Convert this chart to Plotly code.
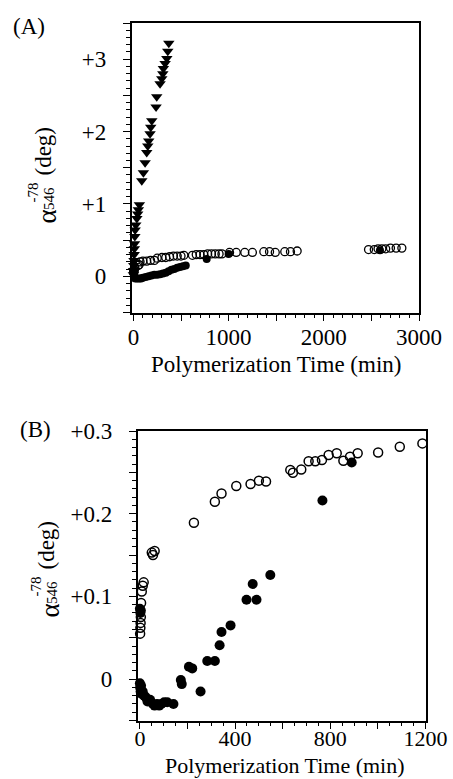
import plotly.graph_objects as go

W, H = 453, 779

# ---------------- Panel A data ----------------
a_tri_x = [0, 2, 4, 6, 8, 10, 12, 15, 18, 25, 36, 45, 52, 63, 88, 105, 123, 140, 151, 161,
           175, 182, 193, 238, 245, 280, 298, 309, 315, 333, 351, 361, 372]
a_tri_y = [0.02, 0.08, 0.15, 0.22, 0.30, 0.38, 0.45, 0.55, 0.64, 0.71, 0.80, 0.86, 0.92, 0.99,
           1.32, 1.43, 1.57, 1.71, 1.80, 1.87, 1.97, 2.06, 2.15, 2.34, 2.48, 2.66, 2.73, 2.80,
           2.87, 2.94, 3.01, 3.11, 3.22]

a_open_x = [2, 4, 6, 8, 10, 15, 50, 60, 70, 100, 140, 180, 220, 250, 300, 340, 380, 420, 460,
            500, 530, 620, 660, 700, 740, 780, 820, 860, 900, 930, 1010, 1080, 1170, 1250,
            1370, 1430, 1490, 1590, 1650, 1720, 2470, 2530, 2570, 2610, 2650, 2700, 2760, 2820]
a_open_y = [0.05, 0.06, 0.07, 0.09, 0.11, 0.12, 0.15, 0.16, 0.20, 0.21, 0.21, 0.22, 0.22, 0.25,
            0.26, 0.26, 0.27, 0.28, 0.28, 0.28, 0.29, 0.29, 0.30, 0.30, 0.30, 0.31, 0.31, 0.31,
            0.31, 0.31, 0.33, 0.33, 0.33, 0.33, 0.34, 0.34, 0.33, 0.34, 0.34, 0.35, 0.37, 0.37,
            0.38, 0.38, 0.38, 0.39, 0.39, 0.39]

a_fill_x = [0, 5, 10, 20, 40, 60, 80, 100, 130, 160, 190, 220, 250, 280, 310, 340, 370, 400,
            430, 460, 490, 520, 550, 770, 1000, 2590]
a_fill_y = [0.08, 0.0, -0.02, -0.03, -0.03, -0.03, -0.03, -0.02, -0.01, 0.0, 0.01, 0.02, 0.02,
            0.03, 0.04, 0.05, 0.07, 0.09, 0.10, 0.12, 0.13, 0.14, 0.15, 0.24, 0.31, 0.36]

# ---------------- Panel B data ----------------
b_open_x = [1, 2, 3, 4, 5, 8, 12, 16, 50, 55, 62, 227, 315, 343, 405, 465, 500, 530, 632, 643,
            678, 709, 737, 765, 793, 827, 855, 883, 915, 1001, 1092, 1187]
b_open_y = [0.055, 0.062, 0.068, 0.075, 0.092, 0.106, 0.113, 0.117, 0.153, 0.150, 0.155, 0.189,
            0.2145, 0.2245, 0.2335, 0.236, 0.240, 0.239, 0.253, 0.2495, 0.2535, 0.2635, 0.2635,
            0.265, 0.271, 0.273, 0.264, 0.269, 0.273, 0.274, 0.281, 0.285]

b_fill_x = [0, 2, 4, 0, 1, 3, 5, 8, 12, 18, 25, 32, 43, 55, 62, 72, 81, 90, 102, 115, 141, 172,
            176, 206, 220, 255, 283, 315, 335, 343, 381, 448, 474, 490, 548, 767, 890, 1005]
b_fill_y = [0.085, 0.08, 0.083, -0.005, -0.01, -0.015, -0.008, -0.018, -0.015, -0.02, -0.022,
            -0.027, -0.025, -0.03, -0.032, -0.03, -0.032, -0.03, -0.028, -0.028, -0.03, -0.001,
            -0.006, 0.015, 0.013, -0.015, 0.022, 0.022, 0.041, 0.057, 0.065, 0.096, 0.115, 0.096,
            0.126, 0.216, 0.262, 0.302]

# tick definitions
a_xticks = [0, 500, 1000, 1500, 2000, 2500, 3000]
a_xtext = ["0", "", "1000", "", "2000", "", "3000"]
a_yticks = [-0.5, 0, 0.5, 1, 1.5, 2, 2.5, 3, 3.5]
a_ytext = ["", "0", "", "+1", "", "+2", "", "+3", ""]
b_xticks = [0, 200, 400, 600, 800, 1000, 1200]
b_xtext = ["0", "", "400", "", "800", "", "1200"]
b_yticks = [-0.05, 0, 0.05, 0.1, 0.15, 0.2, 0.25, 0.3]
b_ytext = ["", "0", "", "+0.1", "", "+0.2", "", "+0.3"]

FONT = "Liberation Serif"
BLACK = "black"

fig = go.Figure()

def add(x, y, xa, ya, symbol, size, lw=1.2):
    fig.add_trace(go.Scatter(
        x=x, y=y, mode="markers", xaxis=xa, yaxis=ya, cliponaxis=False,
        marker=dict(symbol=symbol, size=size, color=BLACK,
                    line=dict(color=BLACK, width=lw)),
        hoverinfo="skip"))

add(a_fill_x, a_fill_y, "x", "y", "circle", 8, 0)
add(a_open_x, a_open_y, "x", "y", "circle-open", 8, 1.3)
add(a_tri_x, a_tri_y, "x", "y", "triangle-down", 10, 0)
add(b_open_x, b_open_y, "x2", "y2", "circle-open", 9, 1.5)
add(b_fill_x, b_fill_y, "x2", "y2", "circle", 10, 0)

def px_x(p):
    return p / W

def px_y(p):
    return 1 - p / H

def axis(domain, rng, tickvals, ticktext, minor_dtick, standoff, anchor, fsize=23):
    return dict(
        domain=domain, range=rng, anchor=anchor,
        showline=True, linecolor=BLACK, linewidth=1.5, mirror=True,
        ticks="outside", ticklen=7, tickwidth=1.4, tickcolor=BLACK,
        tickvals=tickvals, ticktext=ticktext, ticklabelstandoff=standoff,
        tickfont=dict(family=FONT, size=fsize, color=BLACK),
        minor=dict(dtick=minor_dtick, tick0=0, ticks="outside", ticklen=4,
                   tickwidth=1.2, tickcolor=BLACK, showgrid=False),
        showgrid=False, zeroline=False, fixedrange=True, automargin=False)

fig.update_layout(
    width=W, height=H, margin=dict(l=0, r=0, t=0, b=0, autoexpand=False),
    paper_bgcolor="white", plot_bgcolor="white", showlegend=False,
    xaxis=axis([px_x(131.5), px_x(419)], [-20, 3000], a_xticks, a_xtext, 100, -4, "y"),
    yaxis=axis([px_y(312.5), px_y(23)], [-0.5, 3.5], a_yticks, a_ytext, 0.1, 12, "x"),
    xaxis2=axis([px_x(137.5), px_x(425.5)], [-10, 1200], b_xticks, b_xtext, 50, -10, "y2", 22),
    yaxis2=axis([px_y(720.5), px_y(431)], [-0.05, 0.3], b_yticks, b_ytext, 0.01, 12, "x2"),
)

def note(text, x, y, size, angle=0, yanchor="middle"):
    fig.add_annotation(text=text, x=px_x(x), y=px_y(y), xref="paper", yref="paper",
                       showarrow=False, textangle=angle, xanchor="center", yanchor=yanchor,
                       borderpad=0,
                       font=dict(family=FONT, size=size, color=BLACK))

# panel labels
note("(A)", 29, 27, 23)
note("(B)", 35, 430, 23)

# x axis titles
note("Polymerization Time (min)", 276, 364, 23)
note("Polymerization Time (min)", 285, 779, 22, yanchor="bottom")

# y axis titles (stacked super/subscript)
for dx, dy in [(0, 0), (3, 394)]:
    note("(deg)", 43 + dx, 151.5 + dy, 23, -90)
    note("α", 46 + dx, 216.5 + dy, 27, -90)
    note("-78", 32.5 + dx, 193 + dy, 15, -90)
    note("546", 49 + dx, 199 + dy, 15, -90)

fig.write_html(
    "out.html",
    config={"displayModeBar": False},
    post_script="document.documentElement.style.margin='0';document.documentElement.style.overflow='hidden';document.body.style.margin='0';document.body.style.overflow='hidden';",
)
